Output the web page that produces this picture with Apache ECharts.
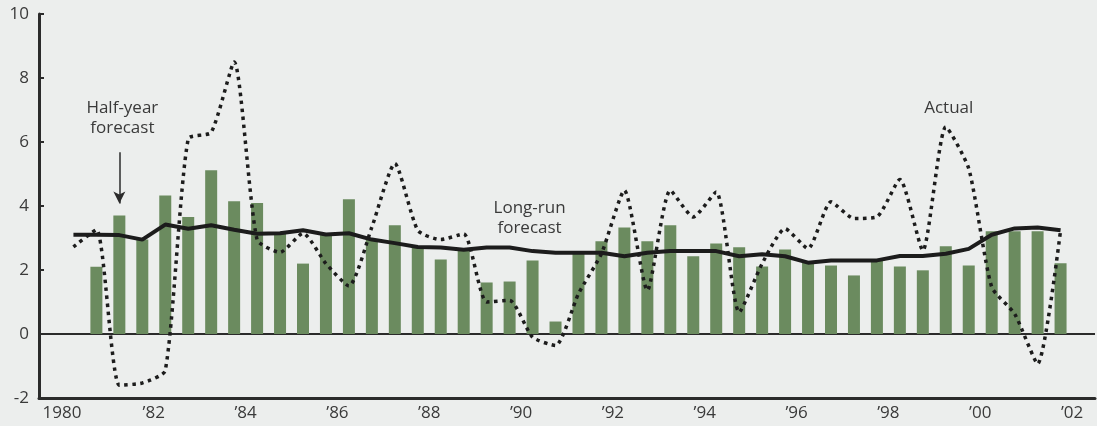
<!DOCTYPE html>
<html>
<head>
<meta charset="utf-8">
<script src="https://cdn.jsdelivr.net/npm/echarts@6/dist/echarts.min.js"></script>
<style>
  html, body { margin: 0; padding: 0; background: #eceeed; }
  #chart { width: 1097px; height: 426px; }
</style>
</head>
<body>
<div id="chart"></div>
<script>
// year axis (labels every other year)
const years = ['1980', '1981', '1982', '1983', '1984', '1985', '1986', '1987', '1988', '1989', '1990',
  '1991', '1992', '1993', '1994', '1995', '1996', '1997', '1998', '1999', '2000', '2001', '2002'];
const yearLabels = ['1980', '', '’82', '', '’84', '', '’86', '', '’88', '', '’90',
  '', '’92', '', '’94', '', '’96', '', '’98', '', '’00', '', '’02'];

// half-year slots, two per year
const halfYears = years.flatMap(y => [y + 'H1', y + 'H2']);

// half-year forecast bars, 1981H1 .. 2002H1
const halfYearForecast = [2.1, 3.7, 2.95, 4.33, 3.66, 5.12, 4.15, 4.09, 3.15, 2.2, 3.1, 4.21,
  2.95, 3.4, 2.7, 2.33, 2.6, 1.61, 1.64, 2.3, 0.39, 2.55, 2.9, 3.33, 2.9, 3.4, 2.43, 2.83,
  2.71, 2.11, 2.64, 2.25, 2.14, 1.83, 2.3, 2.11, 1.99, 2.74, 2.14, 3.21, 3.21, 3.21, 2.21];

// long-run forecast, 1980H2 .. 2002H1
const longRunForecast = [3.10, 3.10, 3.09, 2.95, 3.42, 3.29, 3.40, 3.26, 3.13, 3.15, 3.24,
  3.11, 3.15, 2.95, 2.84, 2.72, 2.70, 2.63, 2.70, 2.70, 2.59, 2.54, 2.54, 2.54, 2.43, 2.54,
  2.59, 2.59, 2.59, 2.43, 2.49, 2.43, 2.23, 2.30, 2.30, 2.30, 2.44, 2.44, 2.51, 2.66, 3.10,
  3.30, 3.33, 3.24];

// actual, 1980H2 .. 2002H1
const actual = [2.72, 3.26, -1.6, -1.53, -1.14, 6.1, 6.3, 8.5, 2.95, 2.55, 3.15, 2.2, 1.5,
  3.34, 5.33, 3.24, 2.95, 3.13, 1.0, 1.05, -0.1, -0.36, 1.26, 2.51, 4.49, 1.36, 4.49, 3.66,
  4.44, 0.68, 2.2, 3.29, 2.67, 4.13, 3.61, 3.66, 4.83, 2.61, 6.47, 5.17, 1.47, 0.63, -0.93, 3.24];

// zero reference line, spanning the whole plot (0..1 on a hidden span axis)
const zeroLine = [[0, 0], [1, 0]];

// pad series onto the 46 half-year slots
const barData = [null, null, ...halfYearForecast, null];
const longRunData = [null, ...longRunForecast, null];
const actualData = [null, ...actual, null];

const FONT = '"Open Sans", sans-serif';
const TEXT = '#3a3a3a';
const AXIS = '#2b2b2b';

const chart = echarts.init(document.getElementById('chart'), null, { renderer: 'canvas' });

const note = (text, slot, value, dx) => ({
  coord: [slot, value],
  symbol: 'rect',
  symbolSize: 1,
  itemStyle: { color: 'transparent' },
  label: {
    show: true, position: 'inside', offset: [dx, 0], formatter: text,
    fontFamily: FONT, fontSize: 17, lineHeight: 20, color: TEXT,
  },
});

chart.setOption({
  backgroundColor: '#eceeed',
  animation: false,
  grid: { left: 39, right: 2, top: 14, bottom: 28 },
  xAxis: [
    {
      type: 'category', data: halfYears, boundaryGap: true,
      show: false, position: 'top',
    },
    {
      type: 'category', data: years, boundaryGap: true, position: 'bottom',
      axisLine: { onZero: false, lineStyle: { color: AXIS, width: 3 } },
      axisTick: { inside: true, length: 5, interval: 0, lineStyle: { color: AXIS, width: 2 } },
      axisLabel: {
        interval: 0, margin: 7,
        formatter: (v, i) => yearLabels[i],
        fontFamily: FONT, fontSize: 17, color: TEXT,
      },
      splitLine: { show: false },
    },
    {
      type: 'value', min: 0, max: 1, show: false, position: 'top',
    },
  ],
  yAxis: {
    type: 'value', min: -2, max: 10, interval: 2,
    axisLine: { show: true, lineStyle: { color: AXIS, width: 3 } },
    axisTick: { show: true, inside: true, length: 5, lineStyle: { color: AXIS, width: 2 } },
    axisLabel: { margin: 10, fontFamily: FONT, fontSize: 17, color: TEXT },
    splitLine: { show: false },
  },
  series: [
    {
      name: 'zero',
      type: 'line',
      xAxisIndex: 2,
      data: zeroLine,
      showSymbol: false,
      silent: true,
      clip: false,
      lineStyle: { color: AXIS, width: 2 },
      z: 1,
    },
    {
      name: 'Half-year forecast',
      type: 'bar',
      xAxisIndex: 0,
      data: barData,
      barWidth: 12,
      itemStyle: { color: '#6b8b5f' },
      z: 2,
      markLine: {
        silent: true,
        symbol: ['none', 'arrow'],
        symbolSize: [9, 12],
        data: [
          [{ coord: ['1981H2', 5.68] }, { coord: ['1981H2', 4.08] }],
        ],
        lineStyle: { color: AXIS, width: 1.5, type: 'solid' },
        label: { show: false },
      },
    },
    {
      name: 'Long-run forecast',
      type: 'line',
      xAxisIndex: 0,
      data: longRunData,
      showSymbol: false,
      lineStyle: { color: '#1c1c1c', width: 4 },
      z: 3,
      markPoint: {
        data: [
          note('Long-run\nforecast', '1990H2', 3.61, -3),
          note('Half-year\nforecast', '1981H2', 6.74, 3),
        ],
      },
    },
    {
      name: 'Actual',
      type: 'line',
      xAxisIndex: 0,
      data: actualData,
      showSymbol: false,
      smooth: 0.2,
      lineStyle: { color: '#1c1c1c', width: 3.5, type: [3.5, 4.5], cap: 'butt' },
      z: 4,
      markPoint: {
        data: [note('Actual', '1999H2', 7.06, 3)],
      },
    },
  ],
});
</script>
</body>
</html>
